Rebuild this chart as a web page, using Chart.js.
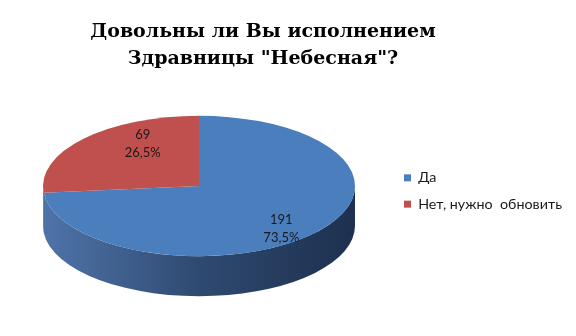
<!DOCTYPE html>
<html>
<head>
<meta charset="utf-8">
<script src="https://cdn.jsdelivr.net/npm/chart.js@4.4.1/dist/chart.umd.min.js"></script>
<style>
  html, body { margin: 0; padding: 0; background: #fff; }
  #wrap { width: 576px; height: 336px; }
</style>
</head>
<body>
<div id="wrap"><canvas id="chart"></canvas></div>
<script>
'use strict';

const titleLines = ['Довольны ли Вы исполнением', 'Здравницы "Небесная"?'];
const categories = ['Да', 'Нет, нужно  обновить'];
const answers = [191, 69];

const topColors = ['#4a7ebd', '#c0504d'];
const sideColors = [['#4f74aa', '#2f4a71', '#1d304e'], ['#a8433f', '#7e3230', '#5c2422']];

// look of the fake 3d disc
const tilt = 0.45;
const depth = 40;

// draws the side wall first, then squashes the top face
const pie3d = {
    id: 'pie3d',
    beforeDatasetsDraw(chart) {
        const ctx = chart.ctx;
        const arcs = chart.getDatasetMeta(0).data;
        if (!arcs.length) return;
        const { x, y, outerRadius: r } = arcs[0];
        const ry = r * tilt;

        ctx.save();
        arcs.forEach((arc, i) => {
            [-2 * Math.PI, 0, 2 * Math.PI].forEach(k => {
                const a0 = Math.max(arc.startAngle + k, 0);
                const a1 = Math.min(arc.endAngle + k, Math.PI);
                if (a1 <= a0) return;
                const grad = ctx.createLinearGradient(x - r, 0, x + r, 0);
                grad.addColorStop(0, sideColors[i][0]);
                grad.addColorStop(0.5, sideColors[i][1]);
                grad.addColorStop(1, sideColors[i][2]);
                ctx.beginPath();
                ctx.ellipse(x, y, r, ry, 0, a0, a1);
                ctx.ellipse(x, y + depth, r, ry, 0, a1, a0, true);
                ctx.closePath();
                ctx.fillStyle = grad;
                ctx.fill();
            });
        });
        ctx.restore();

        ctx.save();
        ctx.translate(x, y);
        ctx.scale(1, tilt);
        ctx.translate(-x, -y);
    },
    afterDatasetsDraw(chart) {
        chart.ctx.restore();
    }
};

const sliceLabels = {
    id: 'sliceLabels',
    afterDatasetsDraw(chart) {
        const ctx = chart.ctx;
        const arcs = chart.getDatasetMeta(0).data;
        const total = answers.reduce((s, v) => s + v, 0);
        ctx.save();
        ctx.font = '13px Lato';
        ctx.fillStyle = '#1a1a1a';
        ctx.textAlign = 'center';
        ctx.textBaseline = 'middle';
        arcs.forEach((arc, i) => {
            const mid = (arc.startAngle + arc.endAngle) / 2;
            // a little perspective: back of the disc looks narrower
            const persp = 1 + 0.28 * Math.sin(mid);
            const lx = arc.x + Math.cos(mid) * arc.outerRadius * 0.6 * persp;
            const ly = arc.y + Math.sin(mid) * arc.outerRadius * tilt * 0.9;
            const pct = (answers[i] / total * 100).toFixed(1).replace('.', ',') + '%';
            ctx.fillText(String(answers[i]), lx, ly - 9);
            ctx.fillText(pct, lx, ly + 9);
        });
        ctx.restore();
    }
};

// title sits a bit left of the middle, legend a bit lower than the disc
const boxShift = {
    id: 'boxShift',
    afterLayout(chart) {
        chart.titleBlock.left -= 26;
        chart.titleBlock.right -= 26;
        chart.legend.top += 46;
        chart.legend.bottom += 46;
    }
};

const ctx = document.getElementById('chart').getContext('2d');
const myChart = new Chart(ctx, {
    type: 'pie',
    data: {
        labels: categories,
        datasets: [
            {
                data: answers,
                backgroundColor: topColors,
                borderWidth: 0,
                clip: false
            }
        ]
    },
    options: {
        responsive: true,
        maintainAspectRatio: false,
        animation: false,
        radius: 156,
        layout: {
            padding: { left: 6, right: 4, bottom: 46 }
        },
        plugins: {
            title: {
                display: true,
                text: titleLines,
                color: '#000',
                font: { family: '"DejaVu Serif"', size: 19, weight: 'bold', lineHeight: 1.42 },
                padding: { top: 19, bottom: 9 }
            },
            legend: {
                position: 'right',
                labels: {
                    boxWidth: 7,
                    boxHeight: 7,
                    color: '#1a1a1a',
                    font: { family: 'Lato', size: 14.3 },
                    padding: 12
                }
            },
            tooltip: { enabled: false }
        }
    },
    plugins: [pie3d, sliceLabels, boxShift]
});
</script>
</body>
</html>
